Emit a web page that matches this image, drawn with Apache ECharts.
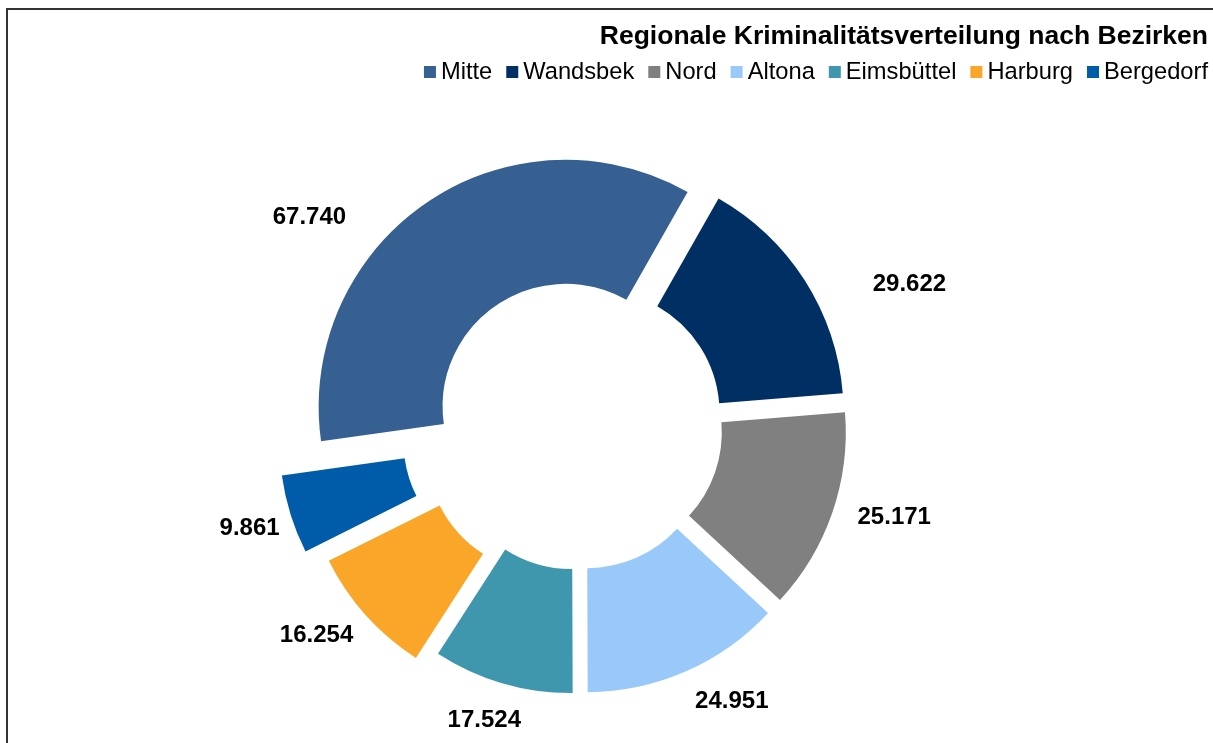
<!DOCTYPE html>
<html>
<head>
<meta charset="utf-8">
<script src="https://cdn.jsdelivr.net/npm/echarts@6/dist/echarts.min.js"></script>
<style>
  html, body { margin: 0; padding: 0; background: #fff; }
  #chart { width: 1213px; height: 743px; }
</style>
</head>
<body>
<div id="chart"></div>
<script>
// Daten
const categories = ["Mitte", "Wandsbek", "Nord", "Altona", "Eimsbüttel", "Harburg", "Bergedorf"];
const values = [67740, 29622, 25171, 24951, 17524, 16254, 9861];
const colors = ["#376092", "#002F63", "#808080", "#99C9F9", "#3F97AE", "#FAA629", "#005CA9"];

// Explosion je Segment (px), Standard 22
const explode = { Harburg: 38, Bergedorf: 54 };
// label nudges (Excel hat die Beschriftungen von Hand verschoben)
const labelOffset = [[-87, 60], [59, 33], [11, -13], [24, -19], [-3, -15], [-21, -5], [-20, 7]];

const myChart = echarts.init(document.getElementById("chart"));

const fmt = function (v) {
  return String(v).replace(/\B(?=(\d{3})+(?!\d))/g, ".");
};

const center = [578, 425];
const radius = [123, 247];
const offsetOf = function (name) {
  return explode[name] || 22;
};

// eine Serie pro Explosionsstufe, andere Segmente unsichtbar
const levels = [];
categories.forEach(function (name) {
  if (levels.indexOf(offsetOf(name)) < 0) levels.push(offsetOf(name));
});

const ringSeries = levels.map(function (off) {
  return {
    type: "pie",
    center: center,
    radius: radius,
    startAngle: 188,
    clockwise: true,
    selectedMode: "multiple",
    selectedOffset: off,
    silent: true,
    avoidLabelOverlap: false,
    label: { show: false },
    labelLine: { show: false },
    select: { itemStyle: { borderWidth: 0 } },
    data: categories.map(function (name, i) {
      const visible = offsetOf(name) === off;
      return {
        name: name,
        value: values[i],
        selected: visible,
        itemStyle: { color: visible ? colors[i] : "rgba(0,0,0,0)" },
      };
    }),
  };
});

const option = {
  backgroundColor: "#fff",
  animation: false,
  tooltip: { show: false },
  title: {
    text: "Regionale Kriminalitätsverteilung nach Bezirken",
    right: 5,
    top: 23,
    padding: 0,
    textStyle: {
      fontFamily: "Liberation Sans",
      fontWeight: "bold",
      fontSize: 26.5,
      color: "#000",
    },
  },
  legend: {
    right: 5,
    top: 60,
    padding: 0,
    itemWidth: 12,
    itemHeight: 12,
    itemGap: 14,
    icon: "rect",
    selectedMode: false,
    textStyle: {
      fontFamily: "Liberation Sans",
      fontSize: 23.7,
      color: "#000",
    },
    data: categories.map(function (name, i) {
      return { name: name, itemStyle: { color: colors[i] } };
    }),
  },
  graphic: [
    {
      type: "rect",
      silent: true,
      z: -10,
      shape: { x: 7, y: 9, width: 1400, height: 900 },
      style: { fill: "none", stroke: "#333", lineWidth: 2 },
    },
  ],
  series: ringSeries.concat([
    {
      // unsichtbarer Ring nur für die Werte
      type: "pie",
      center: center,
      radius: [310, 330],
      startAngle: 188,
      clockwise: true,
      silent: true,
      avoidLabelOverlap: false,
      itemStyle: { color: "rgba(0,0,0,0)" },
      labelLine: { show: false },
      label: {
        show: true,
        position: "inside",
        fontFamily: "Liberation Sans",
        fontWeight: "bold",
        fontSize: 24,
        color: "#000",
        formatter: function (p) {
          return fmt(p.value);
        },
      },
      data: categories.map(function (name, i) {
        return { name: name, value: values[i], label: { offset: labelOffset[i] } };
      }),
    },
  ]),
};
myChart.setOption(option);
</script>
</body>
</html>
